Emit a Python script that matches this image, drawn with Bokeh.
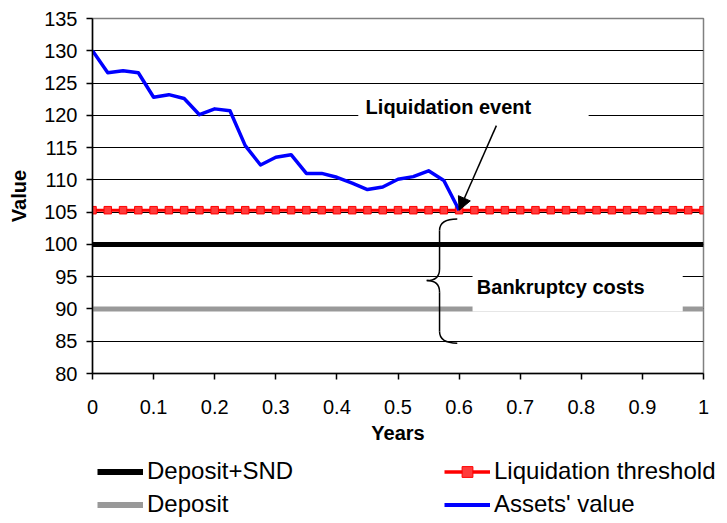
from bokeh.plotting import figure
from bokeh.models import (FixedTicker, Legend, LegendItem, Label, BoxAnnotation,
                          Arrow, NormalHead, Range1d)
from bokeh.embed import file_html
from bokeh.resources import INLINE

# ---------------- data ----------------
years = [0.0, 0.025, 0.05, 0.075, 0.1, 0.125, 0.15, 0.175, 0.2, 0.225,
         0.25, 0.275, 0.3, 0.325, 0.35, 0.375, 0.4, 0.425, 0.45, 0.475,
         0.5, 0.525, 0.55, 0.575, 0.6, 0.625, 0.65, 0.675, 0.7, 0.725,
         0.75, 0.775, 0.8, 0.825, 0.85, 0.875, 0.9, 0.925, 0.95, 0.975, 1.0]
assets_value = [130.0, 126.6, 126.9, 126.6, 122.8, 123.2, 122.6, 120.1, 121.0, 120.7,
                115.3, 112.3, 113.5, 113.9, 111.0, 111.0, 110.4, 109.5, 108.5, 108.9,
                110.1, 110.5, 111.4, 109.9, 105.3]
deposit_snd_level = 100.0
deposit_level = 90.0
liquidation_level = 105.3
deposit_snd = [deposit_snd_level] * len(years)
deposit = [deposit_level] * len(years)
liquidation = [liquidation_level] * len(years)
assets_years = years[:len(assets_value)]

series_names = ["Deposit+SND", "Deposit", "Liquidation threshold", "Assets' value"]

x_ticks = [0.0, 0.1, 0.2, 0.3, 0.4, 0.5, 0.6, 0.7, 0.8, 0.9, 1.0]
x_tick_labels = ["0", "0.1", "0.2", "0.3", "0.4", "0.5", "0.6", "0.7", "0.8", "0.9", "1"]
y_ticks = [80, 85, 90, 95, 100, 105, 110, 115, 120, 125, 130, 135]

FONT = "Liberation Sans"
BLACK, GRAY, RED, BLUE = "black", "#999999", "#ff0000", "#0000ff"

p = figure(width=727, height=455, x_range=Range1d(0, 1), y_range=Range1d(80, 135),
           output_backend="svg", toolbar_location=None,
           min_border_left=92, min_border_top=18, min_border_right=24, min_border_bottom=82)
p.background_fill_color = "white"
p.border_fill_color = "white"
p.outline_line_color = "#808080"
p.outline_line_width = 1.5

# axes
p.xaxis.ticker = FixedTicker(ticks=x_ticks)
p.xaxis.major_label_overrides = {t: l for t, l in zip(x_ticks, x_tick_labels)}
p.yaxis.ticker = FixedTicker(ticks=y_ticks)
for ax in (p.xaxis[0], p.yaxis[0]):
    ax.axis_line_color = "black"
    ax.axis_line_width = 1.5
    ax.major_tick_line_color = "black"
    ax.major_tick_line_width = 1.5
    ax.major_tick_in = 0
    ax.major_tick_out = 6
    ax.minor_tick_line_color = None
    ax.major_label_text_font = FONT
    ax.major_label_text_font_size = "20px"
    ax.major_label_text_color = "black"
    ax.axis_label_text_font = FONT
    ax.axis_label_text_font_size = "20px"
    ax.axis_label_text_font_style = "bold"
    ax.axis_label_text_color = "black"
p.xaxis.axis_label = "Years"
p.yaxis.axis_label = "Value"
p.xaxis.major_label_standoff = 20
p.xaxis.axis_label_standoff = 5
p.yaxis.major_label_standoff = 9
p.yaxis.axis_label_standoff = 11

p.xgrid.grid_line_color = None
p.ygrid.ticker = FixedTicker(ticks=y_ticks[1:-1])
p.ygrid.grid_line_color = "black"
p.ygrid.grid_line_width = 1

# series
p.line(years, deposit_snd, line_color=BLACK, line_width=5)
p.line(years, deposit, line_color=GRAY, line_width=5)
p.line(years, liquidation, line_color=RED, line_width=3)
p.scatter(years, liquidation, marker="square", size=7.5,
          fill_color="#ff3b3b", line_color=RED, line_width=1)
p.line(assets_years, assets_value, line_color=BLUE, line_width=3.5, line_join="round")

# annotation boxes (white, covering gridlines)
p.add_layout(BoxAnnotation(left=0.435, right=0.812, bottom=118.6, top=122.6,
                           fill_color="white", fill_alpha=1, line_color=None))
p.add_layout(BoxAnnotation(left=0.622, right=0.966, bottom=89.6, top=96.2,
                           fill_color="white", fill_alpha=1, line_color=None))

p.add_layout(Label(x=0.447, y=121.25, text="Liquidation event", text_font=FONT,
                   text_font_size="20px", text_font_style="bold", text_color="black",
                   text_baseline="middle", text_align="left"))
p.add_layout(Label(x=0.629, y=93.34, text="Bankruptcy costs", text_font=FONT,
                   text_font_size="20px", text_font_style="bold", text_color="black",
                   text_baseline="middle", text_align="left"))

# arrow to the liquidation point
p.add_layout(Arrow(end=NormalHead(size=13, fill_color="black", line_color="black"),
                   x_start=0.661, y_start=118.4, x_end=assets_years[-1], y_end=assets_value[-1],
                   line_color="black", line_width=1.5))

# curly brace
bx_spine, bx_tip, bx_end = 0.568, 0.547, 0.597
by_top, by_mid, by_bot = 103.95, 94.4, 84.7
br = 1.8
bk = dict(line_color="black", line_width=1.5)
p.quadratic(x0=[bx_end], y0=[by_top], x1=[bx_spine], y1=[by_top - br], cx=[bx_spine], cy=[by_top], **bk)
p.segment(x0=[bx_spine], y0=[by_top - br], x1=[bx_spine], y1=[by_mid + br], **bk)
p.quadratic(x0=[bx_spine], y0=[by_mid + br], x1=[bx_tip], y1=[by_mid], cx=[bx_spine], cy=[by_mid], **bk)
p.quadratic(x0=[bx_tip], y0=[by_mid], x1=[bx_spine], y1=[by_mid - br], cx=[bx_spine], cy=[by_mid], **bk)
p.segment(x0=[bx_spine], y0=[by_mid - br], x1=[bx_spine], y1=[by_bot + br], **bk)
p.quadratic(x0=[bx_spine], y0=[by_bot + br], x1=[bx_end], y1=[by_bot], cx=[bx_spine], cy=[by_bot], **bk)

# ---------------- legend strip below the chart (separate root) ----------------
pl = figure(width=727, height=68, x_range=Range1d(0, 1), y_range=Range1d(0, 1),
            output_backend="svg", toolbar_location=None,
            x_axis_location=None, y_axis_location=None,
            min_border=0, min_border_left=0, min_border_right=0,
            min_border_top=0, min_border_bottom=0)
pl.outline_line_color = None
pl.grid.visible = False
# same series (outside this strip's ranges) only serve as legend glyphs
l_black = pl.line(years, deposit_snd, line_color=BLACK, line_width=6)
l_gray = pl.line(years, deposit, line_color=GRAY, line_width=6)
l_red = pl.line(years, liquidation, line_color=RED, line_width=3.5)
l_red_pts = pl.scatter(years, liquidation, marker="square", size=8,
                       fill_color="#ff3b3b", line_color=RED, line_width=1)
l_blue = pl.line(assets_years, assets_value, line_color=BLUE, line_width=4)

leg_style = dict(border_line_color=None, background_fill_alpha=0, padding=0, margin=0,
                 spacing=5, glyph_width=46, glyph_height=27, label_height=27,
                 label_standoff=4, label_text_font=FONT, label_text_font_size="24px",
                 label_text_color="black")
leg1 = Legend(items=[LegendItem(label=series_names[0], renderers=[l_black]),
                     LegendItem(label=series_names[1], renderers=[l_gray])],
              location=(97, 5), **leg_style)
leg2 = Legend(items=[LegendItem(label=series_names[2], renderers=[l_red, l_red_pts]),
                     LegendItem(label=series_names[3], renderers=[l_blue])],
              location=(444, 5), **leg_style)
pl.add_layout(leg1)
pl.add_layout(leg2)

open("out.html", "w").write(file_html([p, pl], INLINE))
